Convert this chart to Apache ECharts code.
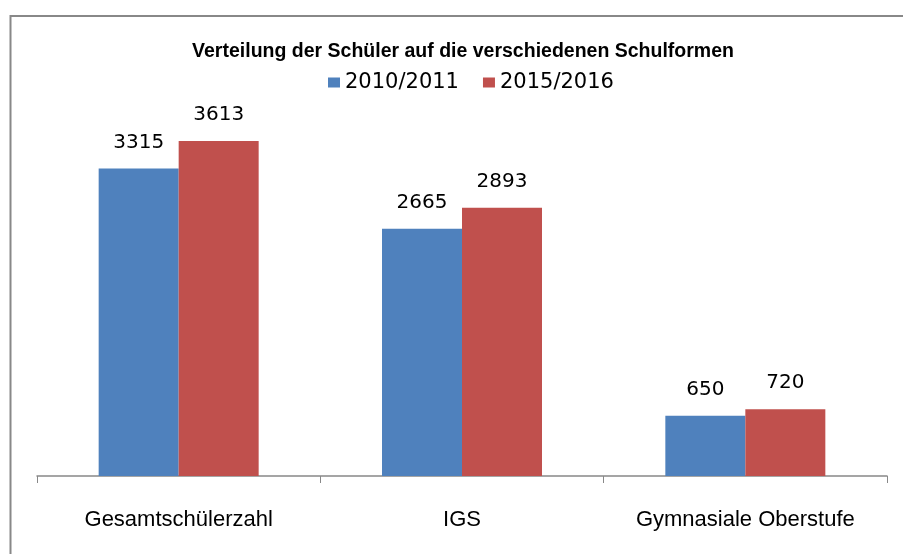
<!DOCTYPE html>
<html>
<head>
<meta charset="utf-8">
<script src="https://cdn.jsdelivr.net/npm/echarts@6/dist/echarts.min.js"></script>
<style>
  html, body { margin: 0; padding: 0; background: #fff; }
  #chart { width: 903px; height: 554px; }
</style>
</head>
<body>
<div id="chart"></div>
<script>
const categories = ['Gesamtschülerzahl', 'IGS', 'Gymnasiale Oberstufe']
const seriesNames = ['2010/2011', '2015/2016']
const values2010 = [3315, 2665, 650]
const values2015 = [3613, 2893, 720]

const labelStyle = {
  show: true,
  position: 'top',
  distance: 16,
  color: '#000',
  fontFamily: 'DejaVu Sans',
  fontSize: 20
}

const chart = echarts.init(document.getElementById('chart'))
chart.setOption({
  animation: false,
  color: ['#4F81BD', '#C0504D'],
  graphic: [
    {
      // outer chart frame, runs off the right and bottom edge
      type: 'rect',
      shape: { x: 10.5, y: 16, width: 1000, height: 700 },
      style: { fill: 'none', stroke: '#888888', lineWidth: 2 },
      silent: true
    }
  ],
  title: {
    text: 'Verteilung der Schüler auf die verschiedenen Schulformen',
    left: 458,
    textAlign: 'center',
    top: 37,
    textStyle: {
      fontFamily: 'Liberation Sans',
      fontSize: 19.5,
      fontWeight: 'bold',
      color: '#000'
    }
  },
  legend: {
    left: 323,
    top: 67,
    icon: 'rect',
    itemWidth: 12,
    itemHeight: 10,
    itemGap: 24,
    textStyle: {
      fontFamily: 'DejaVu Sans',
      fontSize: 21,
      color: '#000'
    },
    data: seriesNames
  },
  grid: {
    left: 37,
    right: 16,
    top: 105,
    bottom: 78
  },
  xAxis: {
    type: 'category',
    data: categories,
    axisLine: { lineStyle: { color: '#888888', width: 1.5 } },
    axisTick: { show: true, interval: 0, length: 7, lineStyle: { color: '#888888' } },
    axisLabel: {
      interval: 0,
      hideOverlap: false,
      margin: 33,
      color: '#000',
      fontFamily: 'Liberation Sans',
      fontSize: 22
    }
  },
  yAxis: {
    type: 'value',
    min: 0,
    max: 4000,
    show: false,
    splitLine: { show: false }
  },
  series: [
    {
      name: seriesNames[0],
      type: 'bar',
      data: values2010,
      barWidth: 80,
      barGap: '0%',
      label: labelStyle
    },
    {
      name: seriesNames[1],
      type: 'bar',
      data: values2015,
      barWidth: 80,
      barGap: '0%',
      label: labelStyle
    }
  ]
})
</script>
</body>
</html>
